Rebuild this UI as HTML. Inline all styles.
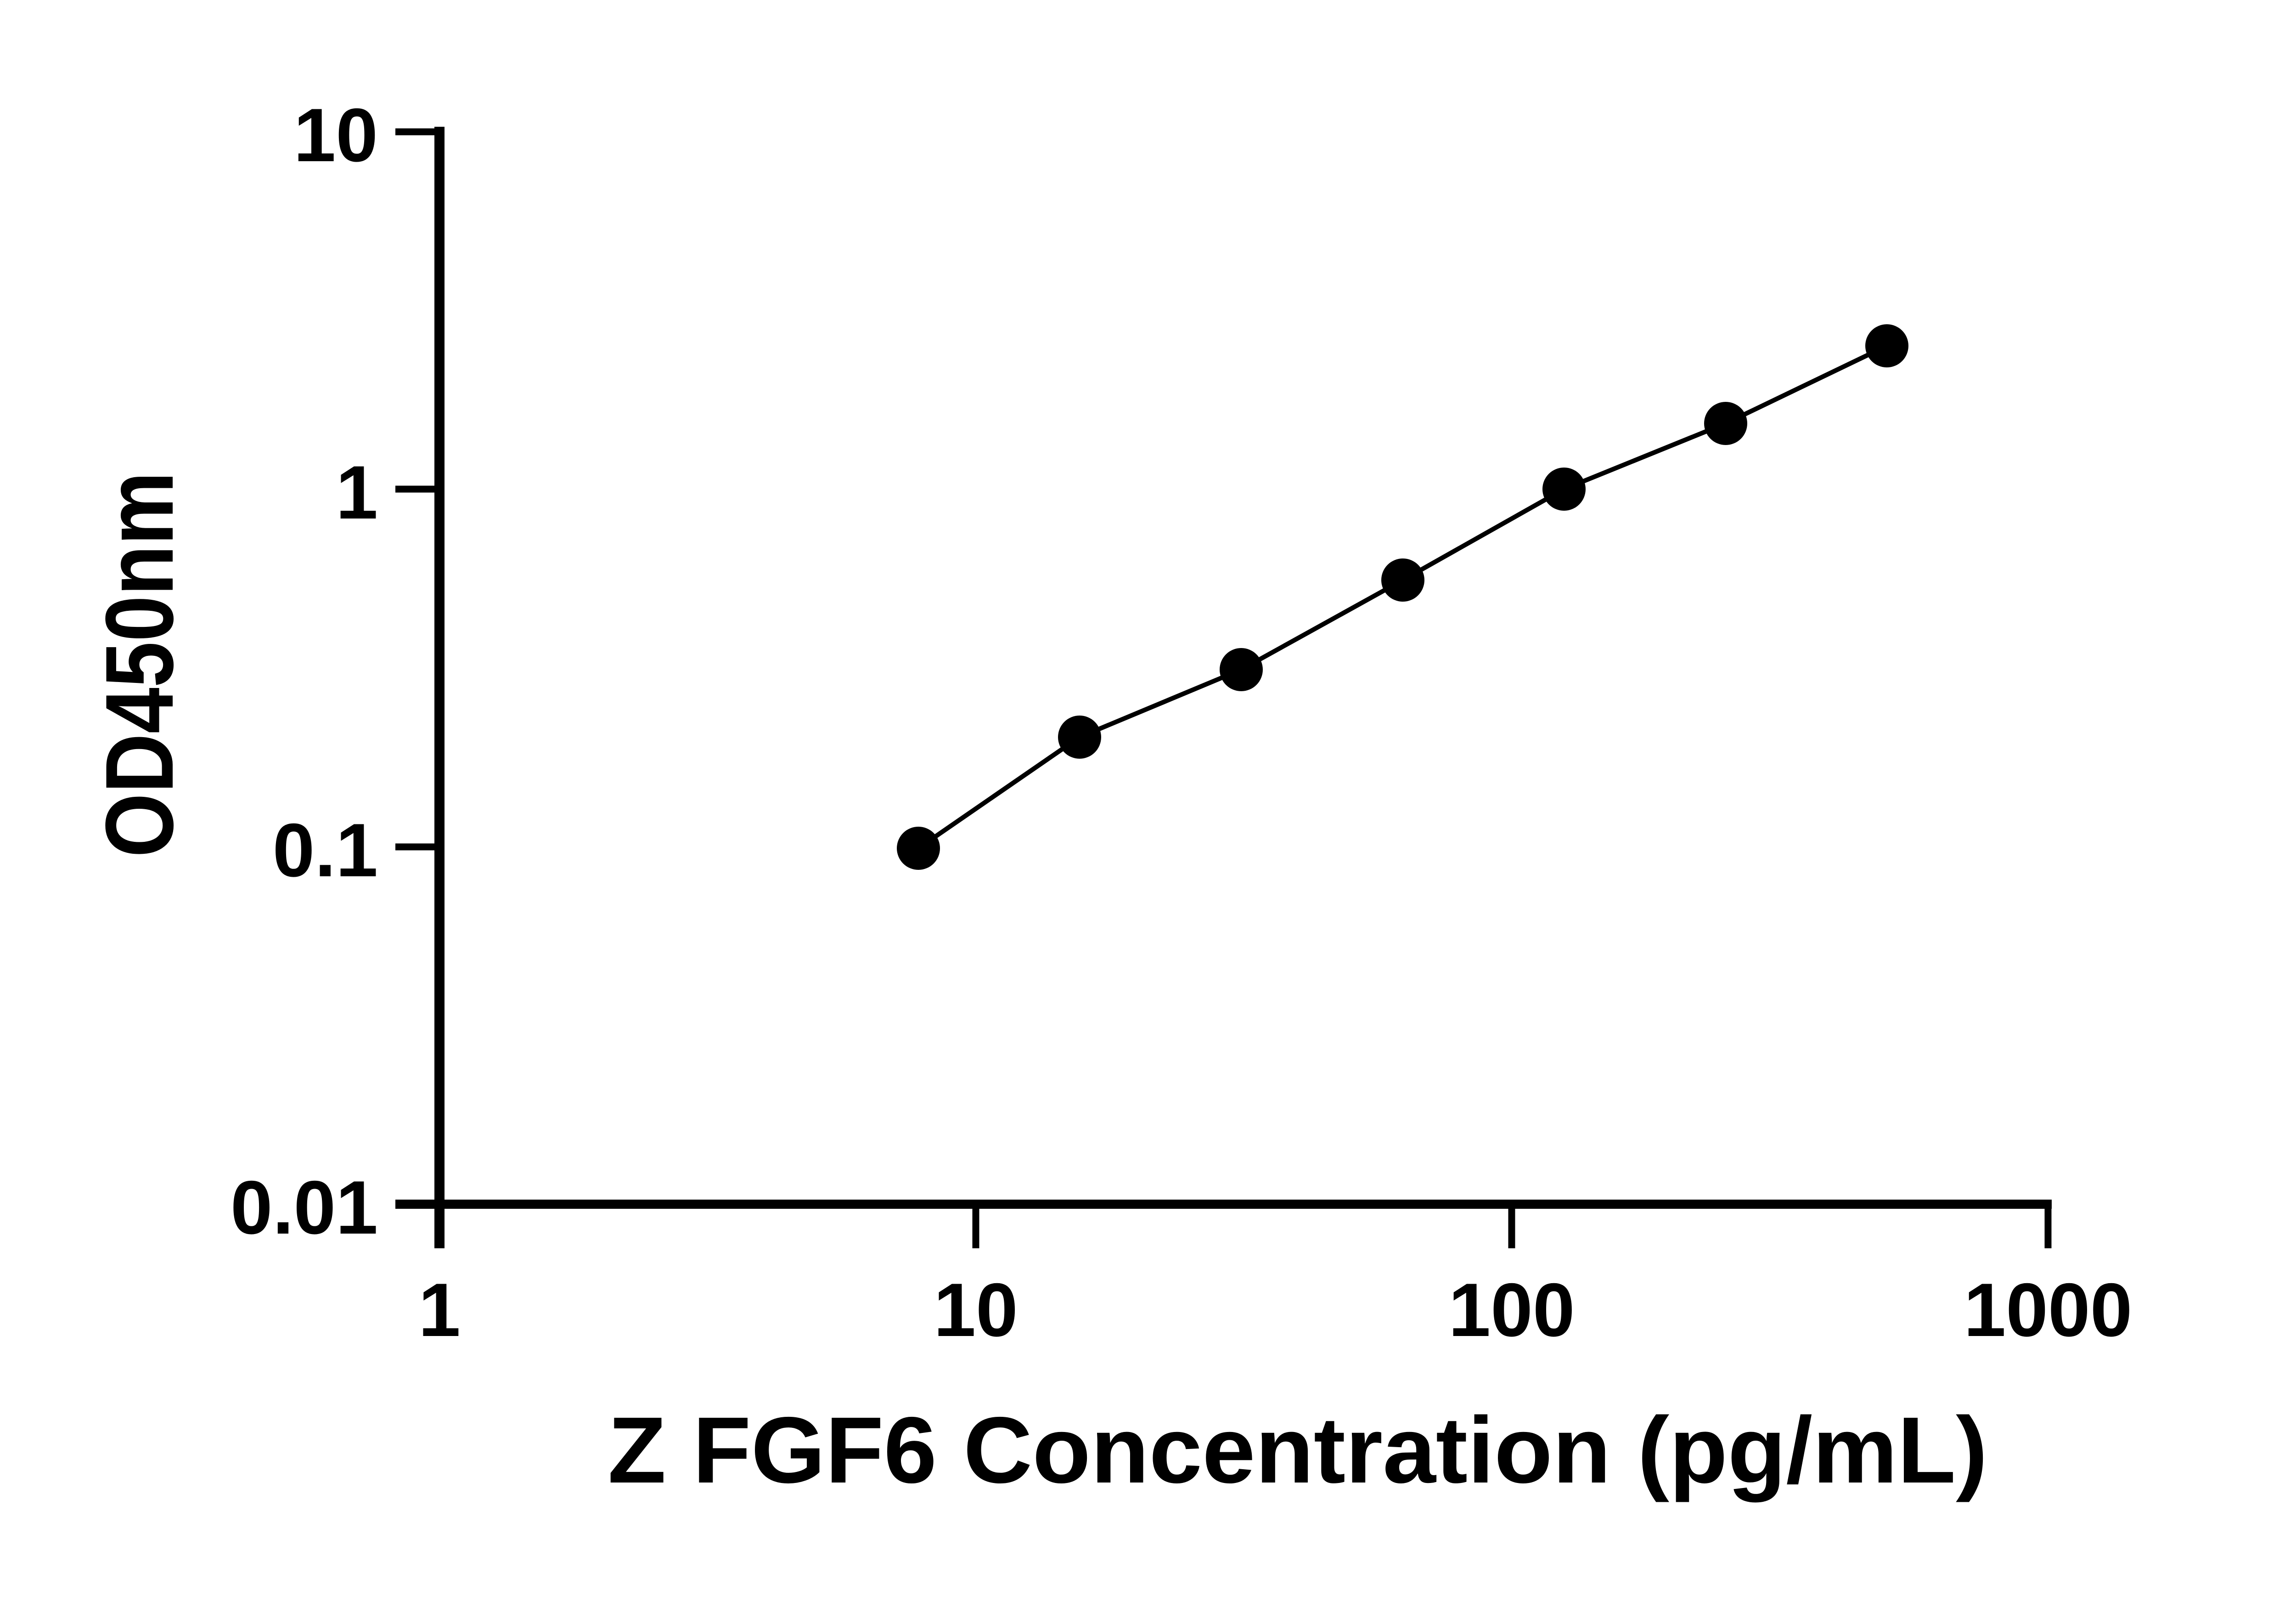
<!DOCTYPE html>
<html><head><style>html,body{margin:0;padding:0;background:#fff}</style></head>
<body>
<svg width="5150" height="3523" xmlns="http://www.w3.org/2000/svg" style="display:block">
<rect width="5150" height="3523" fill="#fff"/>
<g stroke="#000" fill="none">
<line x1="957" y1="276" x2="957" y2="2718" stroke-width="22"/>
<line x1="861" y1="2622" x2="4468" y2="2622" stroke-width="20"/>
<g stroke-width="15">
<line x1="861" y1="287" x2="957" y2="287"/>
<line x1="861" y1="1065" x2="957" y2="1065"/>
<line x1="861" y1="1844" x2="957" y2="1844"/>
<line x1="861" y1="2622" x2="957" y2="2622"/>
<line x1="2125" y1="2622" x2="2125" y2="2718"/>
<line x1="3292" y1="2622" x2="3292" y2="2718"/>
<line x1="4460" y1="2622" x2="4460" y2="2718"/>
</g>
<polyline stroke-width="10" points="2000,1847 2351,1605 2703,1458 3055,1263 3406,1065 3758,922 4109,753"/>
</g>
<g fill="#000">
<circle cx="2000" cy="1847" r="47"/>
<circle cx="2351" cy="1605" r="47"/>
<circle cx="2703" cy="1458" r="47"/>
<circle cx="3055" cy="1263" r="47"/>
<circle cx="3406" cy="1065" r="47"/>
<circle cx="3758" cy="922" r="47"/>
<circle cx="4109" cy="753" r="47"/>
</g>
<g font-family="Liberation Sans, sans-serif" font-weight="bold" font-size="165" fill="#000">
<g text-anchor="end">
<text x="823" y="351">10</text>
<text x="823" y="1129">1</text>
<text x="823" y="1908">0.1</text>
<text x="823" y="2686">0.01</text>
</g>
<g text-anchor="middle">
<text x="957" y="2909">1</text>
<text x="2125" y="2909">10</text>
<text x="3292" y="2909">100</text>
<text x="4460" y="2909">1000</text>
</g>
<text x="2826" y="3228" font-size="205" text-anchor="middle" textLength="3005" lengthAdjust="spacingAndGlyphs">Z FGF6 Concentration (pg/mL)</text>
<text transform="translate(376,1447) rotate(-90)" font-size="210" text-anchor="middle" textLength="840" lengthAdjust="spacingAndGlyphs">OD450nm</text>
</g>
</svg>
</body></html>
